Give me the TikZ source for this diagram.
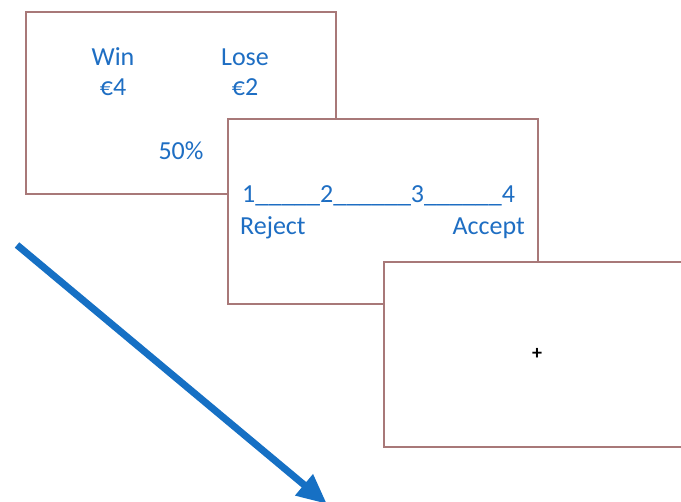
\documentclass[tikz,border=0pt]{standalone}
\usepackage{fontspec}
\setmainfont{Carlito}
\usetikzlibrary{arrows.meta}

\definecolor{frame}{RGB}{168,120,120}
\definecolor{txtblue}{RGB}{30,110,195}
\definecolor{arrowblue}{RGB}{22,112,196}

\tikzset{
  panel/.style={draw=frame, line width=1.6pt, fill=white, inner sep=0pt},
  lbl/.style={text=txtblue, font=\fontsize{26}{30}\selectfont, inner sep=0pt},
  flow/.style={draw=arrowblue, line width=7pt, -{Triangle[length=30pt, width=26pt]}}
}

\begin{document}
\begin{tikzpicture}[x=1pt, y=-1pt]
\useasboundingbox (0,0) rectangle (681,502);

% gamble screen
\node[panel, minimum width=310pt, minimum height=182pt] (gamble) at (181,103) {};
\matrix [column sep=0pt, row sep=0pt] (stakes) at (179,72)
{
    \node[lbl, minimum width=132pt, minimum height=30pt] (win) {Win}; & \node[lbl, minimum width=132pt, minimum height=30pt] (lose) {Lose}; \\
    \node[lbl, minimum width=132pt, minimum height=30pt] (wamt) {€4}; & \node[lbl, minimum width=132pt, minimum height=30pt] (lamt) {€2}; \\
};
\node[lbl] (prob) at (181,151) {50\%};

% rating screen
\node[panel, minimum width=310pt, minimum height=185pt] (rating) at (383,211.5) {};
\node[lbl, anchor=west] (scale) at (242,196) {1\_\_\_\_\_2\_\_\_\_\_\_3\_\_\_\_\_\_4};
\node[lbl, anchor=west] (reject) at (240,228) {Reject};
\node[lbl, anchor=east] (accept) at (525,228) {Accept};

% fixation screen
\node[panel, minimum width=330pt, minimum height=185pt, anchor=north west] (fix) at (383,261) {};
\node[font=\fontsize{20}{22}\selectfont\bfseries, inner sep=0pt] (cross) at (537,354) {+};

% time arrow
\coordinate (t0) at (17,245);
\coordinate (t1) at (327,504);
\draw[flow] (t0) -- (t1);
\end{tikzpicture}
\end{document}
